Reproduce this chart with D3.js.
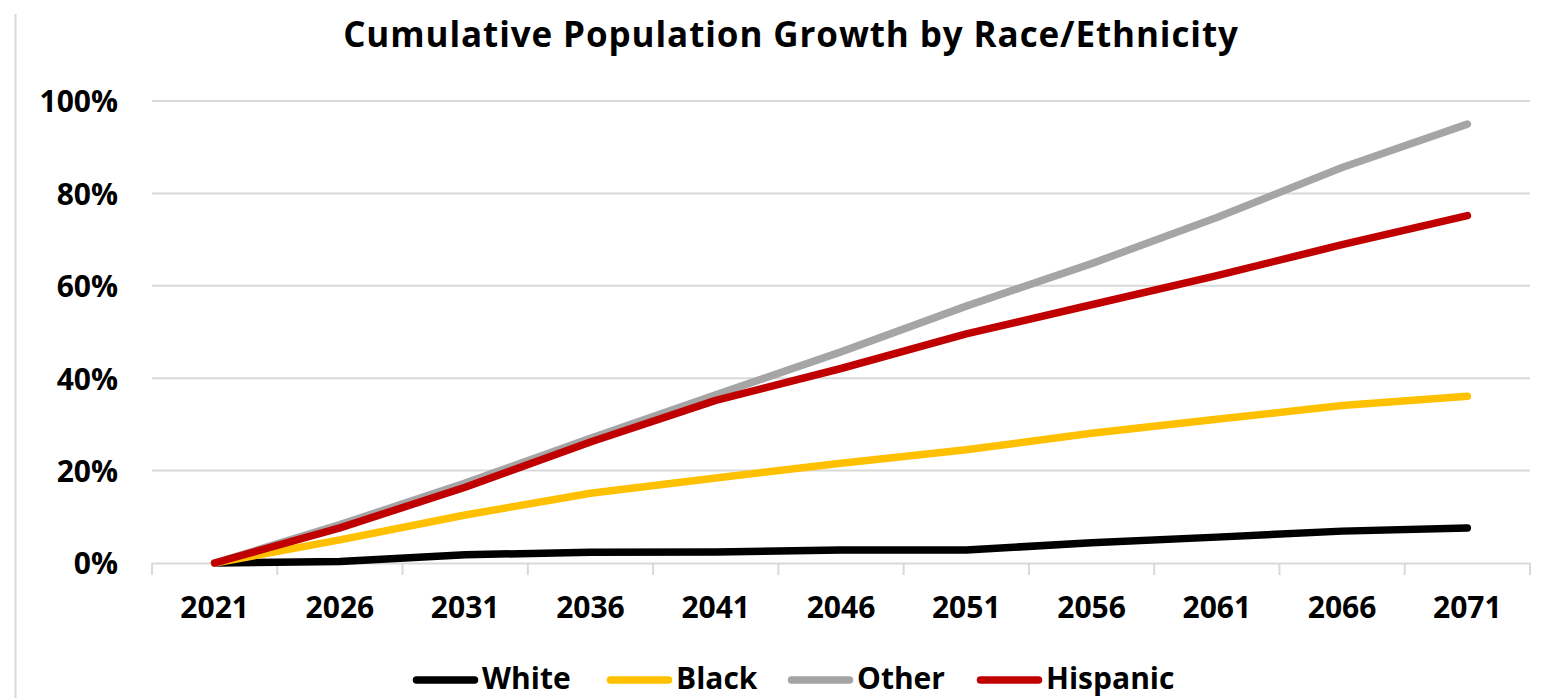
<!DOCTYPE html>
<html>
<head>
<meta charset="utf-8">
<script src="https://cdn.jsdelivr.net/npm/d3@7"></script>
<style>
  body { margin: 0; background: #fff; }
  svg text { font-family: "Open Sans", Lato, sans-serif; font-weight: bold; fill: #000; }
</style>
</head>
<body>
<script>
// data
var years = ["2021", "2026", "2031", "2036", "2041", "2046", "2051", "2056", "2061", "2066", "2071"];
var white    = [0, 0.3, 1.8, 2.3, 2.4, 2.8, 2.8, 4.4, 5.6, 6.9, 7.6];
var black    = [0, 5.0, 10.4, 15.1, 18.4, 21.6, 24.5, 28.1, 31.1, 34.1, 36.1];
var other    = [0, 8.3, 17.3, 27.0, 36.4, 45.7, 55.6, 64.8, 74.8, 85.6, 95.0];
var hispanic = [0, 7.6, 16.4, 26.2, 35.2, 42.1, 49.6, 55.9, 62.2, 68.9, 75.2];
var yTicks = [0, 20, 40, 60, 80, 100];

var seriesNames = ["White", "Black", "Other", "Hispanic"];
var seriesColours = ["#000000", "#FFC000", "#A5A5A5", "#C00000"];
var seriesValues = [white, black, other, hispanic];

var svgDims = { width: 1544, height: 698 };
var plot = { left: 152, right: 1530, top: 101, bottom: 563 };

var svg = d3.select("body").append("svg")
  .attr("width", svgDims.width)
  .attr("height", svgDims.height);

// chart area border on the left
svg.append("line")
  .attr("x1", 15.5).attr("x2", 15.5)
  .attr("y1", 14).attr("y2", svgDims.height)
  .attr("stroke", "#d9d9d9").attr("stroke-width", 2);

var x = d3.scaleBand().domain(years).range([plot.left, plot.right]);
var y = d3.scaleLinear().domain([0, 100]).range([plot.bottom, plot.top]);

// title
svg.append("text")
  .attr("x", 791).attr("y", 47)
  .attr("text-anchor", "middle")
  .style("font-size", "35px")
  .style("letter-spacing", "0.9px")
  .text("Cumulative Population Growth by Race/Ethnicity");

// gridlines
svg.append("g").selectAll("line")
  .data(yTicks.filter(function(d) { return d > 0; }))
  .enter().append("line")
  .attr("x1", plot.left).attr("x2", plot.right)
  .attr("y1", function(d) { return y(d); })
  .attr("y2", function(d) { return y(d); })
  .attr("stroke", "#d9d9d9").attr("stroke-width", 2);

// y axis labels
var yAxis = d3.axisLeft(y).tickValues(yTicks)
  .tickFormat(function(d) { return d + "%"; })
  .tickSize(0).tickPadding(34);
svg.append("g")
  .attr("transform", "translate(" + plot.left + ",0)")
  .call(yAxis)
  .call(function(g) {
    g.select(".domain").remove();
    g.selectAll("text").style("font-size", "30px").attr("dy", "0.36em");
  });

// x axis with tick marks between categories
var xAxis = d3.axisBottom(x).tickSize(0).tickPadding(34);
var gx = svg.append("g")
  .attr("transform", "translate(0," + plot.bottom + ")")
  .call(xAxis);
gx.select(".domain").attr("stroke", "#d9d9d9").attr("stroke-width", 2);
gx.selectAll("text").style("font-size", "30px");
var bounds = years.map(function(d) { return x(d); }).concat([plot.right]);
gx.selectAll(".sep").data(bounds).enter().append("line")
  .attr("class", "sep")
  .attr("x1", function(d) { return d; }).attr("x2", function(d) { return d; })
  .attr("y1", 0).attr("y2", 12)
  .attr("stroke", "#d9d9d9").attr("stroke-width", 2);

// lines
var line = d3.line()
  .x(function(d, i) { return x(years[i]) + x.bandwidth() / 2; })
  .y(function(d) { return y(d); });

svg.append("g").selectAll("path")
  .data(seriesValues)
  .enter().append("path")
  .attr("d", line)
  .attr("fill", "none")
  .attr("stroke", function(d, i) { return seriesColours[i]; })
  .attr("stroke-width", 7.5)
  .attr("stroke-linecap", "round")
  .attr("stroke-linejoin", "round");

// legend
var legendX = [413, 607, 788, 977];
var legend = svg.append("g").selectAll("g")
  .data(seriesNames)
  .enter().append("g")
  .attr("transform", function(d, i) { return "translate(" + legendX[i] + ",680)"; });
legend.append("line")
  .attr("x1", 3.5).attr("x2", 61.5)
  .attr("stroke", function(d, i) { return seriesColours[i]; })
  .attr("stroke-width", 7.5)
  .attr("stroke-linecap", "round");
legend.append("text")
  .attr("x", 69).attr("y", 9)
  .style("font-size", "30px")
  .text(function(d) { return d; });
</script>
</body>
</html>
